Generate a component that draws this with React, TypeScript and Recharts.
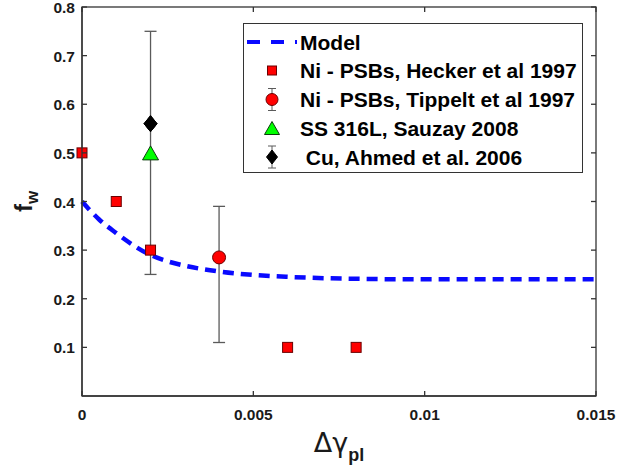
import {
  ComposedChart,
  ErrorBar,
  Legend,
  Line,
  Scatter,
  XAxis,
  YAxis,
} from "recharts";

// model curve
const modelX = [0, 0.0005, 0.001, 0.0015, 0.002, 0.0025, 0.003, 0.004, 0.005, 0.006, 0.008, 0.01, 0.012, 0.015];
const modelF = [0.4, 0.363, 0.335, 0.31, 0.29, 0.277, 0.268, 0.256, 0.249, 0.245, 0.241, 0.24, 0.24, 0.24];

const heckerX = [0, 0.001, 0.002, 0.006, 0.008];
const heckerF = [0.5, 0.4, 0.3, 0.1, 0.1];

const tippeltX = [0.004];
const tippeltF = [0.285];
const tippeltLow = [0.11];
const tippeltHigh = [0.39];

const sauzayX = [0.002];
const sauzayF = [0.5];

const ahmedX = [0.002];
const ahmedF = [0.56];
const ahmedLow = [0.25];
const ahmedHigh = [0.75];

const xTicks = [0, 0.005, 0.01, 0.015];
const yTicks = [0.1, 0.2, 0.3, 0.4, 0.5, 0.6, 0.7, 0.8];
const xDomain = [0, 0.015];
const yDomain = [0, 0.8];

const legendNames = [
  "Model",
  "Ni - PSBs, Hecker et al 1997",
  "Ni - PSBs, Tippelt et al 1997",
  "SS 316L, Sauzay 2008",
  " Cu, Ahmed et al. 2006",
];

const modelData = modelX.map((x, i) => ({ x, y: modelF[i] }));
const heckerData = heckerX.map((x, i) => ({ x, y: heckerF[i] }));
const tippeltData = tippeltX.map((x, i) => ({
  x,
  y: tippeltF[i],
  err: [tippeltF[i] - tippeltLow[i], tippeltHigh[i] - tippeltF[i]],
}));
const sauzayData = sauzayX.map((x, i) => ({ x, y: sauzayF[i] }));
const ahmedData = ahmedX.map((x, i) => ({
  x,
  y: ahmedF[i],
  err: [ahmedF[i] - ahmedLow[i], ahmedHigh[i] - ahmedF[i]],
}));

const W = 619;
const H = 469;
// plot box in page pixels
const BOX = { left: 82, top: 7, right: 596, bottom: 396 };

const FONT = "'Liberation Sans', Arial, Helvetica, sans-serif";
const AX = "#333333";
const BLUE = "#0a0aff";
const ERR = "#5a5a5a";
const AXW = 1.3;

function Square({ cx, cy, s = 10 }: any) {
  return <rect x={cx - s / 2} y={cy - s / 2} width={s} height={s} fill="#ff0000" stroke="#6b0000" strokeWidth={1} />;
}
function Circle({ cx, cy, r = 6.5 }: any) {
  return <circle cx={cx} cy={cy} r={r} fill="#ff0000" stroke="#6b0000" strokeWidth={1} />;
}
function Tri({ cx, cy, w = 16, h = 14 }: any) {
  return (
    <polygon
      points={`${cx - w / 2},${cy + h / 2} ${cx + w / 2},${cy + h / 2} ${cx},${cy - h / 2}`}
      fill="#00ff00"
      stroke="#0b3d0b"
      strokeWidth={1}
    />
  );
}
function Diamond({ cx, cy, w = 13, h = 16 }: any) {
  return (
    <polygon
      points={`${cx},${cy - h / 2} ${cx + w / 2},${cy} ${cx},${cy + h / 2} ${cx - w / 2},${cy}`}
      fill="#000"
      stroke="#000"
    />
  );
}

const tickText = { fontFamily: FONT, fontWeight: 700, fontSize: 15.5, fill: "#1a1a1a" };

function BottomTick({ x, y, payload }: any) {
  return (
    <text x={x} y={y + 24} textAnchor="middle" {...tickText}>
      {String(payload.value)}
    </text>
  );
}
function LeftTick({ x, y, payload }: any) {
  return (
    <text x={x - 7} y={y + 6} textAnchor="end" {...tickText}>
      {payload.value.toFixed(1)}
    </text>
  );
}

function YLabel({ viewBox }: any) {
  const cx = viewBox.x - 49;
  const cy = viewBox.y + viewBox.height / 2;
  return (
    <g transform={`translate(${cx} ${cy}) rotate(-90)`}>
      <text x={0} y={0} textAnchor="middle" fontFamily={FONT} fontWeight={700} fill="#1a1a1a">
        <tspan fontSize={24}>f</tspan>
        <tspan fontSize={17} dy={6}>w</tspan>
      </text>
    </g>
  );
}
function XLabel({ viewBox }: any) {
  const cx = viewBox.x + viewBox.width / 2;
  return (
    <text x={cx} y={viewBox.y + 56} textAnchor="middle" fill="#1a1a1a">
      <tspan fontSize={27} fontFamily="'DejaVu Sans', sans-serif">Δγ</tspan>
      <tspan fontSize={18} fontWeight={700} fontFamily={FONT} dy={9}>pl</tspan>
    </text>
  );
}

function LegendBox() {
  const rows = [19, 47.5, 76.5, 105, 134];
  const mx = 29;
  const tx = 57;
  return (
    <svg width={340} height={150} style={{ display: "block" }}>
      <rect x={0.5} y={0.5} width={339} height={149} fill="#fff" stroke={AX} />
      <line x1={4} y1={rows[0]} x2={54} y2={rows[0]} stroke={BLUE} strokeWidth={4} strokeDasharray="13 11" />
      <Square cx={mx} cy={rows[1]} s={9} />
      <line x1={mx} y1={rows[2] - 11} x2={mx} y2={rows[2] + 11} stroke={ERR} />
      <line x1={mx - 4} y1={rows[2] - 11} x2={mx + 4} y2={rows[2] - 11} stroke={ERR} />
      <line x1={mx - 4} y1={rows[2] + 11} x2={mx + 4} y2={rows[2] + 11} stroke={ERR} />
      <Circle cx={mx} cy={rows[2]} r={6} />
      <Tri cx={mx} cy={rows[3]} w={15} h={13} />
      <line x1={mx} y1={rows[4] - 11} x2={mx} y2={rows[4] + 11} stroke={ERR} />
      <line x1={mx - 4} y1={rows[4] - 11} x2={mx + 4} y2={rows[4] - 11} stroke={ERR} />
      <line x1={mx - 4} y1={rows[4] + 11} x2={mx + 4} y2={rows[4] + 11} stroke={ERR} />
      <Diamond cx={mx} cy={rows[4]} w={11} h={14} />
      {legendNames.map((n, i) => (
        <text
          key={n}
          x={tx}
          y={rows[i] + 7.5}
          xmlSpace="preserve"
          fontFamily={FONT}
          fontWeight={700}
          fontSize={21}
          fill="#000"
        >
          {n}
        </text>
      ))}
    </svg>
  );
}

// box with inward ticks on all four sides (MATLAB "box on")
function Frame() {
  const px = (v: number) => BOX.left + ((v - xDomain[0]) / (xDomain[1] - xDomain[0])) * (BOX.right - BOX.left);
  const py = (v: number) => BOX.bottom - ((v - yDomain[0]) / (yDomain[1] - yDomain[0])) * (BOX.bottom - BOX.top);
  return (
    <svg width={W} height={H} style={{ position: "absolute", left: 0, top: 0, pointerEvents: "none" }}>
      <g stroke={AX} strokeWidth={AXW} fill="none">
        <rect x={BOX.left} y={BOX.top} width={BOX.right - BOX.left} height={BOX.bottom - BOX.top} />
        {xTicks.map((v) => (
          <g key={"x" + v}>
            <line x1={px(v)} y1={BOX.bottom} x2={px(v)} y2={BOX.bottom - 5} />
            <line x1={px(v)} y1={BOX.top} x2={px(v)} y2={BOX.top + 5} />
          </g>
        ))}
        {yTicks.map((v) => (
          <g key={"y" + v}>
            <line x1={BOX.left} y1={py(v)} x2={BOX.left + 5} y2={py(v)} />
            <line x1={BOX.right} y1={py(v)} x2={BOX.right - 5} y2={py(v)} />
          </g>
        ))}
      </g>
    </svg>
  );
}

export default function App() {
  return (
    <div style={{ position: "absolute", left: 0, top: 0, width: W, height: H, background: "#fff" }}>
      <ComposedChart
        width={W}
        height={H}
        margin={{ top: BOX.top, right: W - BOX.right, bottom: H - BOX.bottom - 1, left: BOX.left - 1 }}
      >
        <XAxis
          dataKey="x"
          type="number"
          domain={xDomain}
          ticks={xTicks}
          interval={0}
          height={1}
          tickSize={0}
          tickMargin={0}
          tickLine={false}
          axisLine={{ stroke: AX, strokeWidth: AXW }}
          tick={<BottomTick />}
          label={<XLabel />}
        />
        <YAxis
          type="number"
          domain={yDomain}
          ticks={yTicks}
          interval={0}
          width={1}
          tickSize={0}
          tickMargin={0}
          tickLine={false}
          axisLine={{ stroke: AX, strokeWidth: AXW }}
          tick={<LeftTick />}
          label={<YLabel />}
        />
        <Line
          data={modelData}
          dataKey="y"
          type="monotone"
          stroke={BLUE}
          strokeWidth={4.5}
          strokeDasharray="11 7"
          dot={false}
          activeDot={false}
          isAnimationActive={false}
        />
        <Scatter data={ahmedData} dataKey="y" shape={<Diamond />} isAnimationActive={false}>
          <ErrorBar dataKey="err" direction="y" width={6} stroke={ERR} strokeWidth={1.3} isAnimationActive={false} />
        </Scatter>
        <Scatter data={heckerData} dataKey="y" shape={<Square />} isAnimationActive={false} />
        <Scatter data={tippeltData} dataKey="y" shape={<Circle />} isAnimationActive={false}>
          <ErrorBar dataKey="err" direction="y" width={6} stroke={ERR} strokeWidth={1.3} isAnimationActive={false} />
        </Scatter>
        <Scatter data={sauzayData} dataKey="y" shape={<Tri />} isAnimationActive={false} />
        <Scatter data={ahmedData} dataKey="y" shape={<Diamond />} isAnimationActive={false} />
        <Legend
          layout="horizontal"
          verticalAlign="middle"
          align="center"
          content={<LegendBox />}
          wrapperStyle={{ left: 243, top: 23, width: 340, height: 150 }}
        />
      </ComposedChart>
      <Frame />
    </div>
  );
}
